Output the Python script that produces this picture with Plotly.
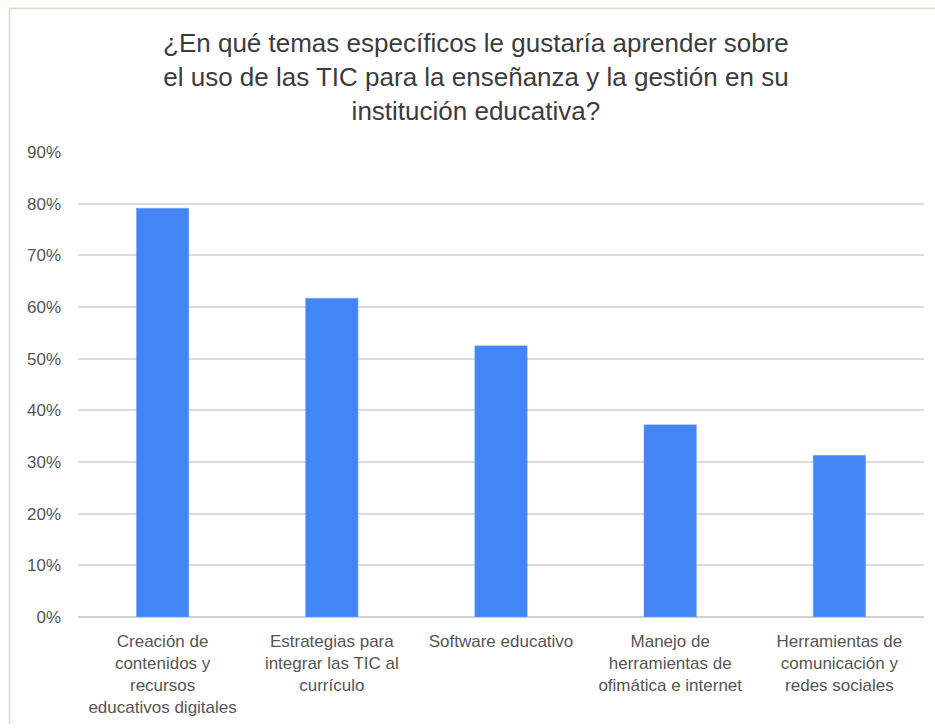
import plotly.graph_objects as go

# Datos (porcentaje de respuestas)
temas = [
    "Creación de<br>contenidos y<br>recursos<br>educativos digitales",
    "Estrategias para<br>integrar las TIC al<br>currículo",
    "Software educativo",
    "Manejo de<br>herramientas de<br>ofimática e internet",
    "Herramientas de<br>comunicación y<br>redes sociales",
]
porcentajes = [0.791, 0.617, 0.525, 0.372, 0.313]
y_ticks = [0, 0.1, 0.2, 0.3, 0.4, 0.5, 0.6, 0.7, 0.8, 0.9]

titulo = ("¿En qué temas específicos le gustaría aprender sobre<br>"
          "el uso de las TIC para la enseñanza y la gestión en su<br>"
          "institución educativa?")

fig = go.Figure()
fig.add_trace(go.Bar(
    x=temas, y=porcentajes,
    marker=dict(color="#4285F4", line=dict(color="#7fa9f7", width=0.5)),
    hoverinfo="x+y",
))

# marco de la captura original
W, H = 935, 728
L, R, T, B = 78, 11, 152, 108
pw, ph = W - L - R, H - T - B


def px(x):
    return (x - L) / pw


def py(y):
    return (H - B - y) / ph


fig.add_shape(type="rect", xref="paper", yref="paper",
              x0=px(0), x1=px(W), y0=py(7.5), y1=py(0),
              fillcolor="#fefcf6", line=dict(width=0), layer="below")
fig.add_shape(type="line", xref="paper", yref="paper",
              x0=px(9.5), x1=px(W), y0=py(7.5), y1=py(7.5),
              line=dict(color="#d8d8d8", width=1.5))
fig.add_shape(type="line", xref="paper", yref="paper",
              x0=px(9.5), x1=px(9.5), y0=py(7.5), y1=py(H),
              line=dict(color="#d8d8d8", width=1.5))

fig.update_layout(
    width=W, height=H,
    margin=dict(l=L, r=R, t=T, b=B),
    paper_bgcolor="white", plot_bgcolor="white",
    font=dict(family="Liberation Sans, Arial, sans-serif", color="#555555", size=17),
    title=dict(text=titulo, x=0.509, xanchor="center", y=0.928, yanchor="top",
               font=dict(size=26, color="#3c3c3c")),
    bargap=0.69,
    showlegend=False,
    xaxis=dict(showgrid=False, showline=False, ticks="", ticklabelstandoff=12,
               tickfont=dict(size=17)),
    yaxis=dict(range=[0, 0.9], tickvals=y_ticks, tickformat=".0%",
               showgrid=True, gridcolor="#dcdcdc", gridwidth=1.5,
               zeroline=True, zerolinecolor="#d0d0d0", zerolinewidth=1.5,
               showline=False, ticks="", ticklabelstandoff=16,
               tickfont=dict(size=17)),
)

# sin el margen por defecto del <body>, para que el gráfico ocupe toda la ventana
fig.write_html("out.html", config={"displayModeBar": False},
               post_script="document.body.style.margin='0';")
